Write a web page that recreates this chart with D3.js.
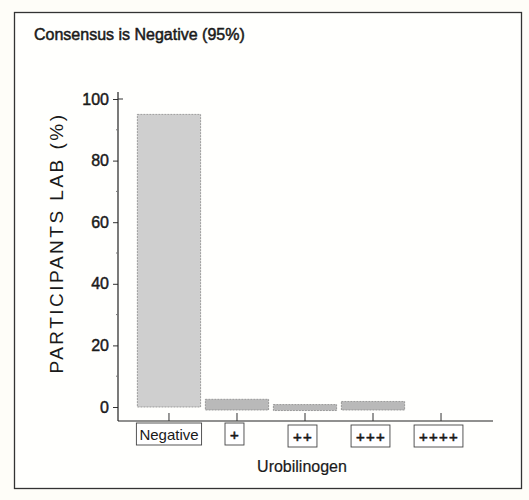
<!DOCTYPE html>
<head>
  <meta charset="utf-8">
  <script src="https://d3js.org/d3.v7.min.js"></script>
  <style>
    body { margin:0; background:#fff; }
    svg { display:block; font-family:"Liberation Sans", Arial, sans-serif; }
  </style>
</head>
<body>
  <script>
    var categories = ["Negative", "+", "++", "+++", "++++"],
        percents = [95, 2.5, 0.8, 1.8, 0],
        yTicks = [0, 20, 40, 60, 80, 100],
        yMinor = [10, 30, 50, 70, 90];

    var width = 529, height = 500;

    var svg = d3.select("body").append("svg")
        .attr("width", width)
        .attr("height", height);

    // scanned paper look
    svg.append("rect").attr("width", width).attr("height", height).attr("fill", "#fefdf8");
    svg.append("rect")
        .attr("x", 14.5).attr("y", 12.5).attr("width", 507).attr("height", 476)
        .attr("fill", "#fffffd").attr("stroke", "#333").attr("stroke-width", 1.3);

    var x = d3.scaleBand().domain(categories).range([136, 474]).paddingInner(0.07).paddingOuter(0.02),
        y = d3.scaleLinear().domain([0, 100]).range([407, 99]);

    var axisX = 118, baseY = 421;

    svg.append("text")
        .attr("x", 34).attr("y", 40)
        .attr("font-size", 16).attr("fill", "#1a1a1a")
        .attr("stroke", "#1a1a1a").attr("stroke-width", 0.5)
        .text("Consensus is Negative (95%)");

    // bars
    svg.selectAll("rect.bar").data(categories)
      .enter().append("rect")
        .attr("class", "bar")
        .attr("x", function(d) { return x(d); })
        .attr("width", x.bandwidth())
        .attr("y", function(d, i) { return y(percents[i]); })
        .attr("height", function(d, i) { return percents[i] > 0 ? Math.max(y(0) - y(percents[i]), 3) + (i ? 3 : 0) : 0; })
        .attr("fill", function(d, i) { return i ? "#b9b9b9" : "#cfcfcf"; })
        .attr("stroke", "#8a8a8a")
        .attr("stroke-width", 0.8)
        .attr("stroke-dasharray", "2,1");

    // y axis
    var yAxis = svg.append("g")
        .attr("transform", "translate(" + axisX + ",0)")
        .call(d3.axisLeft(y).tickValues(yTicks).tickSize(5).tickPadding(4));
    yAxis.select(".domain").remove();
    yAxis.selectAll("text").attr("font-size", 16).attr("fill", "#1a1a1a")
        .attr("stroke", "#1a1a1a").attr("stroke-width", 0.45)
        .attr("font-family", "Liberation Sans, Arial, sans-serif");
    yAxis.selectAll("line").attr("stroke", "#333");
    svg.append("line")
        .attr("x1", axisX).attr("x2", axisX).attr("y1", 92).attr("y2", baseY)
        .attr("stroke", "#222").attr("stroke-width", 1.2);
    svg.append("line")
        .attr("x1", axisX).attr("x2", axisX + 5).attr("y1", y(100)).attr("y2", y(100))
        .attr("stroke", "#333");
    svg.selectAll("line.minor").data(yMinor)
      .enter().append("line")
        .attr("class", "minor")
        .attr("x1", axisX - 2).attr("x2", axisX)
        .attr("y1", function(d) { return y(d); }).attr("y2", function(d) { return y(d); })
        .attr("stroke", "#777");

    // x axis
    svg.append("line")
        .attr("x1", axisX).attr("x2", 493).attr("y1", baseY).attr("y2", baseY)
        .attr("stroke", "#222").attr("stroke-width", 1.2);
    svg.selectAll("line.xtick").data(categories)
      .enter().append("line")
        .attr("class", "xtick")
        .attr("x1", function(d) { return x(d) + x.bandwidth() / 2; })
        .attr("x2", function(d) { return x(d) + x.bandwidth() / 2; })
        .attr("y1", baseY).attr("y2", baseY - 8)
        .attr("stroke", "#333");

    // boxed category labels
    var labels = svg.selectAll("g.lab").data(categories)
      .enter().append("g")
        .attr("class", "lab")
        .attr("transform", function(d, i) {
          return "translate(" + (x(d) + x.bandwidth() / 2 - (i ? 2 : 0)) + "," + (baseY + 2 + (i > 1 ? 2 : 0)) + ")";
        });
    labels.append("text")
        .attr("text-anchor", "middle")
        .attr("y", 17)
        .attr("font-size", 15)
        .attr("letter-spacing", function(d, i) { return i ? 1.2 : 0; })
        .attr("fill", "#1a1a1a")
        .attr("stroke", "#1a1a1a")
        .attr("stroke-width", function(d, i) { return i ? 0.6 : 0; })
        .text(function(d) { return d; })
        .each(function(d, i) {
          var b = this.getBBox(), p = this.parentNode;
          d3.select(p).insert("rect", "text")
            .attr("x", b.x - (i ? 5 : 3)).attr("y", 0)
            .attr("width", b.width + (i ? 9 : 6)).attr("height", 22)
            .attr("fill", "#fff").attr("stroke", "#444").attr("stroke-width", 0.9);
        });

    svg.append("text")
        .attr("x", 302).attr("y", 472)
        .attr("text-anchor", "middle")
        .attr("font-size", 16).attr("fill", "#1a1a1a")
        .attr("stroke", "#1a1a1a").attr("stroke-width", 0.2)
        .text("Urobilinogen");

    svg.append("text")
        .attr("transform", "translate(63,243) rotate(-90)")
        .attr("text-anchor", "middle")
        .attr("font-size", 19).attr("fill", "#1a1a1a")
        .attr("letter-spacing", 2.5)
        .text("PARTICIPANTS LAB (%)");
  </script>
</body>
</html>
